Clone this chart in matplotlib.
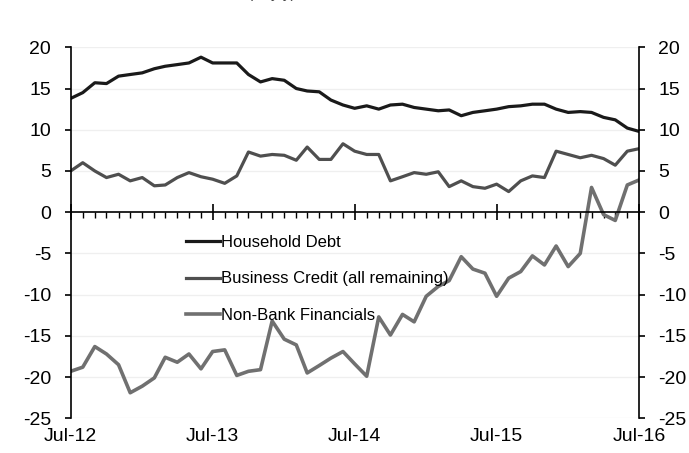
import numpy as np
import pandas as pd
import matplotlib
matplotlib.use("Agg")
import matplotlib.pyplot as plt
import matplotlib.dates as mdates

# monthly data, Jul-12 .. Jul-16 (% y/y)
months = pd.date_range("2012-07-01", periods=49, freq="MS")

household = [13.8, 14.5, 15.7, 15.6, 16.5, 16.7, 16.9, 17.4, 17.7, 17.9, 18.1, 18.8,
             18.1, 18.1, 18.1, 16.7, 15.8, 16.2, 16.0, 15.0, 14.7, 14.6, 13.6, 13.0,
             12.6, 12.9, 12.5, 13.0, 13.1, 12.7, 12.5, 12.3, 12.4, 11.7, 12.1, 12.3,
             12.5, 12.8, 12.9, 13.1, 13.1, 12.5, 12.1, 12.2, 12.1, 11.5, 11.2, 10.2,
             9.8]

business = [5.0, 6.0, 5.0, 4.2, 4.6, 3.8, 4.2, 3.2, 3.3, 4.2, 4.8, 4.3,
            4.0, 3.5, 4.4, 7.3, 6.8, 7.0, 6.9, 6.3, 7.9, 6.4, 6.4, 8.3,
            7.4, 7.0, 7.0, 3.8, 4.3, 4.8, 4.6, 4.9, 3.1, 3.8, 3.1, 2.9,
            3.4, 2.5, 3.8, 4.4, 4.2, 7.4, 7.0, 6.6, 6.9, 6.5, 5.7, 7.4,
            7.7]

non_bank = [-19.3, -18.8, -16.3, -17.2, -18.5, -21.9, -21.1, -20.1, -17.6, -18.2, -17.2, -19.0,
            -16.9, -16.7, -19.8, -19.3, -19.1, -13.2, -15.4, -16.1, -19.5, -18.6, -17.7, -16.9,
            -18.4, -19.9, -12.7, -14.9, -12.4, -13.3, -10.2, -9.0, -8.3, -5.4, -6.9, -7.4,
            -10.2, -8.0, -7.2, -5.3, -6.4, -4.1, -6.6, -5.0, 3.0, -0.3, -1.0, 3.3,
            3.9]

labels = ["Household Debt", "Business Credit (all remaining)", "Non-Bank Financials"]
year_ticks = ["Jul-12", "Jul-13", "Jul-14", "Jul-15", "Jul-16"]

plt.rcParams["font.family"] = ["Liberation Sans", "DejaVu Sans"]
plt.rcParams["axes.unicode_minus"] = False

fig = plt.figure(figsize=(6.89, 4.53), dpi=100)
ax = fig.add_axes([0.1026, 0.0766, 0.8248, 0.819])

ax.plot(months, household, color="#1a1a1a", lw=2.3, label=labels[0])
ax.plot(months, business, color="#4f4f4f", lw=2.3, label=labels[1])
ax.plot(months, non_bank, color="#707070", lw=2.6, label=labels[2])

ax.set_xlim(months[0], months[-1])
ax.set_ylim(-25, 20)
ax.set_yticks(np.arange(-25, 21, 5))
for v in np.arange(-25, 21, 5):
    if v != 0:
        ax.axhline(v, color="#efefef", lw=0.9, zorder=0)

# x axis drawn along zero
ax.spines["top"].set_visible(False)
ax.spines["bottom"].set_position(("data", 0))
ax.spines["bottom"].set_linewidth(1.2)
ax.spines["left"].set_linewidth(1.2)
ax.spines["right"].set_linewidth(1.2)
ax.xaxis.set_major_locator(mdates.MonthLocator(bymonth=7))
ax.xaxis.set_minor_locator(mdates.MonthLocator())
ax.tick_params(axis="x", which="major", direction="inout", length=12, width=1.2, labelbottom=False)
ax.tick_params(axis="x", which="minor", direction="out", length=4, width=1.0)

# y ticks on both sides
ax.tick_params(axis="y", which="both", direction="out", length=4, width=1.2,
               labelsize=14, left=True, right=True, labelleft=True, labelright=True, pad=10)

# date labels at the bottom
sec = ax.secondary_xaxis(location=0)
sec.set_xticks(months[::12])
sec.set_xticklabels(year_ticks)
sec.tick_params(length=0, labelsize=14, pad=7)
sec.spines["bottom"].set_visible(False)

leg = ax.legend(loc="upper left", bbox_to_anchor=(0.177, 0.535), frameon=False, fontsize=12,
                handlelength=2.0, handletextpad=0.1, labelspacing=1.3)

# clipped heading at very top
fig.text(0.395, 1.004, "(% y/y)", ha="center", va="baseline", fontsize=11, color="#444444")

fig.savefig("out.png", dpi=100)
